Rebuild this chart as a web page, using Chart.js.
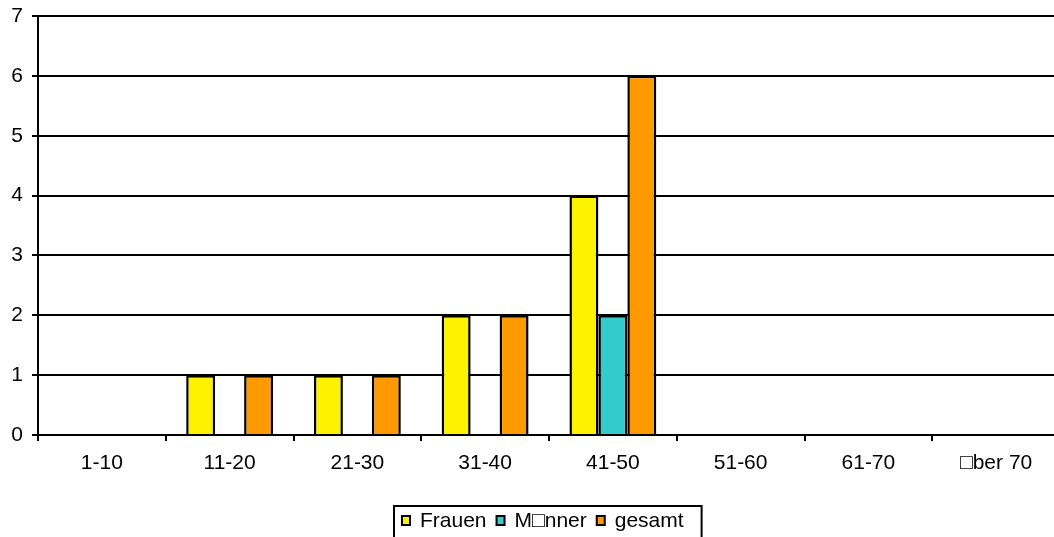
<!DOCTYPE html>
<html>
<head>
<meta charset="utf-8">
<script src="https://cdn.jsdelivr.net/npm/chart.js@4"></script>
<style>
  html, body { margin: 0; padding: 0; background: #fff; overflow: hidden; }
  canvas { display: block; }
</style>
</head>
<body>
<canvas id="c" width="1060" height="537"></canvas>
<script>
// Age groups on the category axis
const categories = ['1-10', '11-20', '21-30', '31-40', '41-50', '51-60', '61-70', '\u25A1ber 70'];
// Counts per group
const frauen = [0, 1, 1, 2, 4, 0, 0, 0];
const maenner = [0, 0, 0, 0, 2, 0, 0, 0];
const gesamt = [0, 1, 1, 2, 6, 0, 0, 0];
// Value axis ticks
const yTicks = [0, 1, 2, 3, 4, 5, 6, 7];
const seriesNames = ['Frauen', 'M\u25A1nner', 'gesamt'];
const seriesColors = ['#FFF200', '#33CCCC', '#FF9900'];

const FONT = "'Liberation Sans', Arial, sans-serif";
Chart.defaults.font.family = FONT;
Chart.defaults.font.size = 21;
Chart.defaults.color = '#000';

// Boxed legend below the axis
const boxedLegend = {
  id: 'boxedLegend',
  afterDraw(chart) {
    const ctx = chart.ctx;
    ctx.save();
    ctx.font = '21px ' + FONT;
    ctx.textBaseline = 'alphabetic';
    const left = 394, top = 506;
    let x = left + 8;
    const baseline = 527;
    chart.data.datasets.forEach((ds) => {
      ctx.fillStyle = ds.backgroundColor;
      ctx.fillRect(x, 516, 8, 9);
      ctx.lineWidth = 2;
      ctx.strokeStyle = '#000';
      ctx.strokeRect(x, 516, 8, 9);
      ctx.fillStyle = '#000';
      ctx.fillText(ds.label, x + 18, baseline);
      x += 18 + ctx.measureText(ds.label).width + 10;
    });
    ctx.lineWidth = 2;
    ctx.strokeStyle = '#000';
    ctx.strokeRect(left, top, x - left + 8, 60);
    ctx.restore();
  }
};

new Chart(document.getElementById('c'), {
  type: 'bar',
  data: {
    labels: categories,
    datasets: [
      { label: seriesNames[0], data: frauen, backgroundColor: seriesColors[0] },
      { label: seriesNames[1], data: maenner, backgroundColor: seriesColors[1] },
      { label: seriesNames[2], data: gesamt, backgroundColor: seriesColors[2] }
    ].map(d => Object.assign(d, { borderColor: '#000', borderWidth: 2.5, categoryPercentage: 0.68, barPercentage: 1 }))
  },
  options: {
    responsive: false,
    animation: false,
    devicePixelRatio: 1,
    layout: { padding: { top: 0, right: 0, left: 0, bottom: 0 } },
    plugins: { legend: { display: false }, tooltip: { enabled: false } },
    scales: {
      x: {
        offset: true,
        grid: { display: true, drawOnChartArea: false, drawTicks: true, tickLength: 6, color: '#000', lineWidth: 2, offset: true },
        border: { display: true, color: '#000', width: 2 },
        ticks: { padding: 10, maxRotation: 0, autoSkip: false },
        afterFit(s) { s.height = 102; s.paddingLeft = 0; s.paddingRight = 0; }
      },
      y: {
        min: 0, max: 7,
        afterBuildTicks(s) { s.ticks = yTicks.map(v => ({ value: v })); },
        grid: { color: '#000', lineWidth: 2, tickLength: 6, drawTicks: true },
        border: { display: true, color: '#000', width: 2 },
        ticks: { padding: 9 },
        afterFit(s) { s.width = 38; s.paddingTop = 16; s.paddingBottom = 0; }
      }
    }
  },
  plugins: [boxedLegend]
});
</script>
</body>
</html>
